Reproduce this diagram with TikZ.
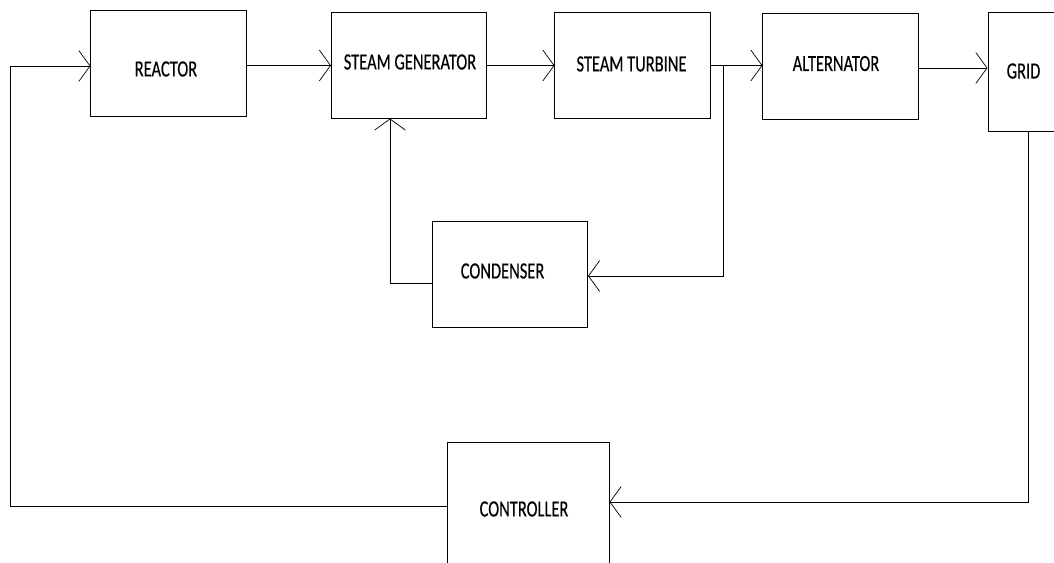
\documentclass[tikz,border=0pt]{standalone}
\usepackage{fontspec}
\setmainfont{Carlito}
\newfontfamily\blockfont{Carlito}[FakeBold=0.4]
\usetikzlibrary{positioning, calc, arrows.meta}

% #1 = x offset, #2 = y offset (down), #3 = text
\newcommand{\blocktext}[3]{\raisebox{\dimexpr-5.3pt-#2\relax}[0pt][0pt]{\makebox[0pt]{\hspace*{\dimexpr2\dimexpr#1\relax\relax}\scalebox{0.71}[1]{\fontsize{16.5}{17}\blockfont #3}}}}

\begin{document}
\begin{tikzpicture}[x=0.025cm, y=-0.025cm, line width=0.7pt,
  block/.style={draw, rectangle, inner sep=0pt, minimum width=3.875cm, minimum height=2.625cm},
  arr/.style={-{Straight Barb[length=8pt, width=22pt, line width=0.5pt]}}]
  \useasboundingbox (0,0) rectangle (1054,563);
  \clip (0,0) rectangle (1054,563);
  % blocks
  \node[block] (reactor) at (168.5,63.5) {\blocktext{-1.8pt}{3.9pt}{REACTOR}};
  \node[block] (sg) at (409,65.5) {\blocktext{0.7pt}{-2.5pt}{STEAM GENERATOR}};
  \node[block] (st) at (632.5,65.5) {\blocktext{-0.7pt}{-1.1pt}{STEAM TURBINE}};
  \node[block] (alt) at (840.5,66.5) {\blocktext{-3.2pt}{-2.1pt}{ALTERNATOR}};
  \node[block, minimum width=2cm, minimum height=2.95cm] (grid) at (1028,72) {\blocktext{-3.2pt}{-0.7pt}{GRID}};
  \node[block] (cond) at (510,274.5) {\blocktext{-5.3pt}{-2.5pt}{CONDENSER}};
  \node[block, minimum width=4.025cm, minimum height=3.25cm] (ctrl) at (528.5,508) {\blocktext{-3.2pt}{0.7pt}{CONTROLLER}};
  % corner points
  \coordinate (c1) at (10,506);
  \coordinate (c2) at (10,66);
  \coordinate (j) at (723,66);
  \coordinate (j2) at (723,276);
  \coordinate (k) at (390,283);
  \coordinate (g) at (1028,502);
  % connectors
  \draw[arr] (ctrl.west |- c1) -- (c1) -- (c2) -- (reactor.west |- c2);
  \draw[arr] (reactor.east |- sg.west) -- (sg.west);
  \draw[arr] (sg.east) -- (st.west);
  \draw[arr] (st.east) -- (st.east -| alt.west);
  \draw[arr] (j) -- (j2) -- (j2 -| cond.east);
  \draw[arr] (cond.west |- k) -- (k) -- (k |- sg.south);
  \draw[arr] (alt.east |- 0,68) -- (grid.west |- 0,68);
  \draw[arr] (grid.south) -- (g) -- (g -| ctrl.east);
\end{tikzpicture}
\end{document}
